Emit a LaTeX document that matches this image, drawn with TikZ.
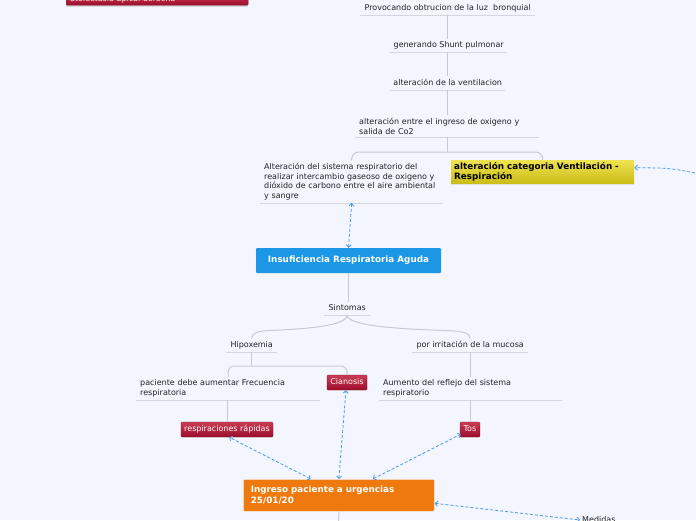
\documentclass[tikz,border=0pt]{standalone}
\usepackage{fontspec}
\setmainfont{DejaVu Sans}
\usetikzlibrary{arrows.meta}
\definecolor{bg}{HTML}{F3F6FE}
\definecolor{linec}{HTML}{C6CAD3}
\definecolor{ulc}{HTML}{D3D7DF}
\definecolor{dashc}{HTML}{4D98E6}
\definecolor{redtop}{HTML}{CB3D55}
\definecolor{redbot}{HTML}{9A0C2B}
\definecolor{yeltop}{HTML}{EFE350}
\definecolor{yelbot}{HTML}{CBBC18}
\definecolor{irablue}{HTML}{1B97E6}
\definecolor{ingorange}{HTML}{EE7A0E}
\definecolor{txt}{HTML}{222222}
\tikzset{
  topic/.style={anchor=south west, inner xsep=4pt, inner ysep=2.5pt, text=txt, align=left},
  ctopic/.style={anchor=south west, inner xsep=2pt, inner ysep=2.5pt, text=txt, text depth=1.8pt},
  uline/.style={draw=ulc, line width=1pt},
  conn/.style={draw=linec, line width=1pt},
  link/.style={draw=dashc, line width=0.8pt, dash pattern=on 3pt off 2pt,
    {Straight Barb[length=2.5pt,width=5pt]}-{Straight Barb[length=2.5pt,width=5pt]}},
  onelink/.style={draw=dashc, line width=0.8pt, dash pattern=on 3pt off 2pt,
    -{Straight Barb[length=2.5pt,width=5pt]}},
  redbox/.style={top color=redtop, bottom color=redbot, draw=redbot!80!black, line width=0.3pt,
    text=white, rounded corners=1pt, inner xsep=3pt, inner ysep=0pt, minimum height=15pt, text depth=1.6pt},
  boldbox/.style={font=\fontsize{8.8}{10.6}\selectfont\bfseries},
}
\begin{document}
\begin{tikzpicture}[x=1pt,y=-1pt, font=\fontsize{8}{9.7}\selectfont]
\useasboundingbox (0,0) rectangle (696,520);
\clip (0,0) rectangle (696,520);
\fill[bg] (0,0) rectangle (696,520);

% top-left red box (cut at top edge)
\fill[black!15] (66,5) rectangle (248,6.5);
\node[redbox, anchor=north west, minimum width=182pt, minimum height=11pt, text width=176pt, align=left, inner xsep=3pt] (atel) at (66,-6) {};
\node[anchor=base west, inner sep=0pt, text=white!92!red] (ateltxt) at (70,1.5) {atelectasia apical derecha};

% chain at top
\node[ctopic, minimum width=175pt] (provoca) at (360,15) {Provocando obtrucion de la luz\ \ bronquial};
\draw[uline] (provoca.south west) -- (provoca.south east);
\node[ctopic, minimum width=117pt] (shunt) at (390,52) {generando Shunt pulmonar};
\draw[uline] (shunt.south west) -- (shunt.south east);
\node[ctopic, minimum width=115pt] (ventil) at (390,90) {alteración de la ventilacion};
\draw[uline] (ventil.south west) -- (ventil.south east);
\node[topic, text width=176pt] (altox) at (355,137) {alteración entre el ingreso de oxigeno y\\ salida de Co2};
\draw[uline] (altox.south west) -- (altox.south east);

\node[topic, text width=175pt] (altsis) at (260,203) {Alteración del sistema respiratorio del\\ realizar intercambio gaseoso de oxigeno y\\ dióxido de carbono entre el aire ambiental\\ y sangre};
\draw[uline] (altsis.south west) -- (altsis.south east);

\fill[black!12] (451,183) rectangle (634,185);
\node[anchor=north west, top color=yeltop, bottom color=yelbot, minimum width=183pt, minimum height=23pt,
  text width=177pt, inner xsep=3pt, inner ysep=1.5pt, align=left, boldbox, text=black] (yel) at (451,160) {alteración categoria Ventilación -\\ Respiración};

\coordinate (br) at (447,152);
\draw[conn] (provoca.south -| 447,0) -- (shunt.north -| 447,0);
\draw[conn] (shunt.south -| 447,0) -- (ventil.north -| 447,0);
\draw[conn] (ventil.south -| 447,0) -- (altox.north -| 447,0);
\draw[conn] (altox.south -| br) -- (br);
\draw[conn, rounded corners=7pt] (altsis.north) -- (altsis.north |- br) -- (yel.north |- br) -- (yel.north);

% IRA
\node[fill=irablue, rounded corners=1pt, minimum width=185pt, minimum height=25pt, text=white,
  boldbox] (ira) at (348.5,260.5) {Insuficiencia Respiratoria Aguda};

\node[ctopic, minimum width=46pt] (sint) at (324,315) {Sintomas};
\draw[uline] (sint.south west) -- (sint.south east);
\draw[conn] (ira.south) -- (ira.south |- sint.north);

\node[ctopic, minimum width=51pt] (hipox) at (226,352) {Hipoxemia};
\draw[uline] (hipox.south west) -- (hipox.south east);
\node[ctopic, minimum width=116pt] (irrit) at (412,352) {por irritación de la mucosa};
\draw[uline] (irrit.south west) -- (irrit.south east);
\draw[conn] (sint.south) .. controls (347,326) and (305,329) .. (270,330.5)
  .. controls (255,331) and (252,334) .. (hipox.north);
\draw[conn] (sint.south) .. controls (347,326) and (400,329) .. (445,330.5)
  .. controls (466,331) and (470,334) .. (irrit.north -| 470,0);

\node[topic, text width=176pt] (pac) at (136,400) {paciente debe aumentar Frecuencia\\ respiratoria};
\draw[uline] (pac.south west) -- (pac.south east);
\node[topic, text width=175pt] (aum) at (379,400) {Aumento del reflejo del sistema\\ respiratorio};
\draw[uline] (aum.south west) -- (aum.south east);
\node[redbox, minimum width=40pt] (cian) at (347,382.5) {Cianosis};

\coordinate (hb) at (251,366);
\draw[conn] (hipox.south -| hb) -- (hb);
\draw[conn, rounded corners=6pt] (pac.north) -- (pac.north |- hb) -- (cian.north |- hb) -- (cian.north);
\draw[conn] (irrit.south -| aum.north) -- (aum.north);

\node[redbox, minimum width=92pt] (resp) at (227,429.5) {respiraciones rápidas};
\node[redbox, minimum width=20pt] (tos) at (470,429.5) {Tos};
\draw[conn] (pac.south -| resp.north) -- (resp.north);
\draw[conn] (aum.south -| tos.north) -- (tos.north);

% Ingreso
\node[anchor=north west, fill=ingorange, draw=white!85!ingorange, line width=0.6pt, rounded corners=1pt,
  minimum width=191pt, minimum height=32pt, text width=176pt, inner xsep=7.5pt, align=left, text=white,
  boldbox] (ing) at (243,479) {Ingreso paciente a urgencias\\ 25/01/20};
\coordinate (bot) at (338.5,530);
\draw[conn] (ing.south) -- (bot);

\node[anchor=west, inner sep=0pt, text=txt] (med) at (582,520) {Medidas};

% dashed links
\draw[link] (ira.north) -- (altsis.south);
\coordinate (yr) at (700,174);
\draw[onelink] (yr) .. controls (670,168) .. ([yshift=4pt]yel.east);
\draw[link] ([xshift=-28pt]ing.north) -- ([xshift=2pt]resp.south);
\draw[link] (ing.north) -- ([xshift=-1pt]cian.south);
\draw[link] ([xshift=34pt]ing.north) -- ([shift={(1,-3)}]tos.south west);
\draw[link] ([yshift=-8pt]ing.east) -- ([xshift=-2pt]med.west);
\end{tikzpicture}
\end{document}
